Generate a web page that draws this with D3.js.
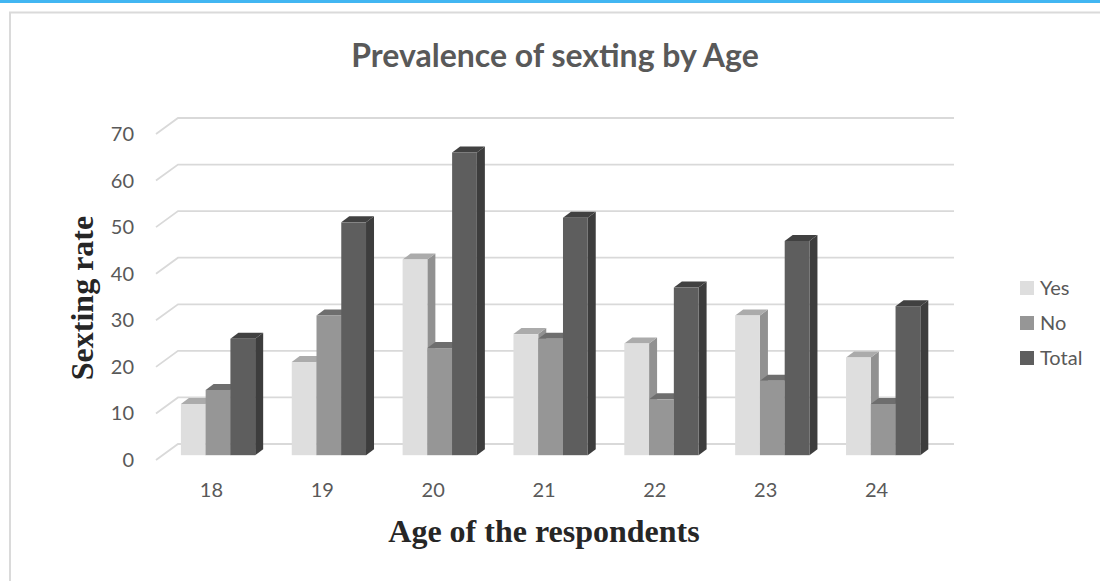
<!DOCTYPE html>
<html>
<head>
<meta charset="utf-8">
<script src="https://cdn.jsdelivr.net/npm/d3@7"></script>
<style>
  html, body { margin: 0; padding: 0; background: #fff; overflow: hidden; }
  svg { display: block; }
</style>
</head>
<body>
<div class="chart-container"></div>
<script>
// Data
const ages = ["18", "19", "20", "21", "22", "23", "24"];
const seriesNames = ["Yes", "No", "Total"];
const yesVals = [11, 20, 42, 26, 24, 30, 21];
const noVals = [14, 30, 23, 25, 12, 16, 11];
const totalVals = [25, 50, 65, 51, 36, 46, 32];
const yTicks = [0, 10, 20, 30, 40, 50, 60, 70];

const width = 1100, height = 581;
const svg = d3.select(".chart-container").append("svg")
  .attr("width", width).attr("height", height);

// colours: front, top, side
const fills = {
  Yes:   { front: "#DEDEDE", top: "#ABABAB", side: "#919191" },
  No:    { front: "#969696", top: "#6E6E6E", side: "#6A6A6A" },
  Total: { front: "#5E5E5E", top: "#414141", side: "#3D3D3D" }
};
const vals = { Yes: yesVals, No: noVals, Total: totalVals };
const sansFont = "Lato, 'Open Sans', sans-serif";
const serifFont = "'Liberation Serif', 'DejaVu Serif', serif";

// Frame
svg.append("rect").attr("x", 0).attr("y", 0).attr("width", width).attr("height", 3)
  .attr("fill", "#41B6F2");
svg.append("path").attr("d", `M10,${height + 5} V12.5 H${width + 5}`)
  .attr("fill", "none").attr("stroke", "#DADADA").attr("stroke-width", 2);

// Scales
const x0 = d3.scaleBand().domain(ages).range([156, 932])
  .paddingInner(0.33).paddingOuter(0.165);
const x1 = d3.scaleBand().domain(seriesNames).range([0, x0.bandwidth()]);
const y = d3.scaleLinear().domain([0, 70]).range([460, 134]);

// 3D offsets
const floorDx = 22, floorDy = -16;
const barFx = 6.6, barFy = -4.8;
const barDx = 8, barDy = -6;

// Gridlines (back wall + diagonal on left wall)
const grid = svg.append("g").attr("stroke", "#D9D9D9").attr("stroke-width", 1.8).attr("fill", "none");
grid.selectAll("path").data(yTicks).enter().append("path")
  .attr("d", d => `M${156},${y(d)} L${156 + floorDx},${y(d) + floorDy} H${932 + floorDx}`);

// Y tick labels
svg.append("g").selectAll("text").data(yTicks).enter().append("text")
  .attr("x", 134).attr("y", d => y(d) + 7)
  .attr("text-anchor", "end")
  .style("font-family", sansFont).style("font-size", "20px")
  .attr("fill", "#595959")
  .text(d => d);

// X tick labels
svg.append("g").selectAll("text").data(ages).enter().append("text")
  .attr("x", d => x0(d) + x0.bandwidth() / 2)
  .attr("y", 497)
  .attr("text-anchor", "middle")
  .style("font-family", sansFont).style("font-size", "20px")
  .attr("fill", "#595959")
  .text(d => d);

// Bars
const bars = svg.append("g");
ages.forEach((age, i) => {
  seriesNames.forEach(s => {
    const v = vals[s][i];
    const xl = x0(age) + x1(s) + barFx;
    const xr = xl + x1.bandwidth();
    const yb = y(0) + barFy;
    const yt = y(v) + barFy;
    const g = bars.append("g");
    // side
    g.append("path")
      .attr("d", `M${xr},${yb} L${xr + barDx},${yb + barDy} L${xr + barDx},${yt + barDy} L${xr},${yt} Z`)
      .attr("fill", fills[s].side);
    // top
    g.append("path")
      .attr("d", `M${xl},${yt} L${xl + barDx},${yt + barDy} L${xr + barDx},${yt + barDy} L${xr},${yt} Z`)
      .attr("fill", fills[s].top);
    // front
    g.append("rect")
      .attr("x", xl).attr("y", yt)
      .attr("width", x1.bandwidth()).attr("height", yb - yt)
      .attr("fill", fills[s].front);
  });
});

// Legend
const legend = svg.append("g").selectAll("g").data(seriesNames).enter().append("g")
  .attr("transform", (d, i) => `translate(1020,${281 + i * 35})`);
legend.append("rect").attr("width", 14).attr("height", 14).attr("fill", d => fills[d].front);
legend.append("text").attr("x", 20).attr("y", 14)
  .style("font-family", sansFont).style("font-size", "20px")
  .attr("fill", "#595959")
  .text(d => d);

// Title
svg.append("text")
  .attr("x", 555).attr("y", 67)
  .attr("text-anchor", "middle")
  .style("font-family", sansFont).style("font-size", "32px")
  .style("font-weight", "bold")
  .attr("fill", "#595959")
  .text("Prevalence of sexting by Age");

// Axis titles
svg.append("text")
  .attr("x", 544).attr("y", 542)
  .attr("text-anchor", "middle")
  .style("font-family", serifFont).style("font-size", "32px")
  .style("font-weight", "bold")
  .attr("fill", "#262626")
  .text("Age of the respondents");

svg.append("text")
  .attr("transform", "translate(93,298) rotate(-90)")
  .attr("text-anchor", "middle")
  .style("font-family", serifFont).style("font-size", "32px")
  .style("font-weight", "bold")
  .attr("fill", "#262626")
  .text("Sexting rate");
</script>
</body>
</html>
